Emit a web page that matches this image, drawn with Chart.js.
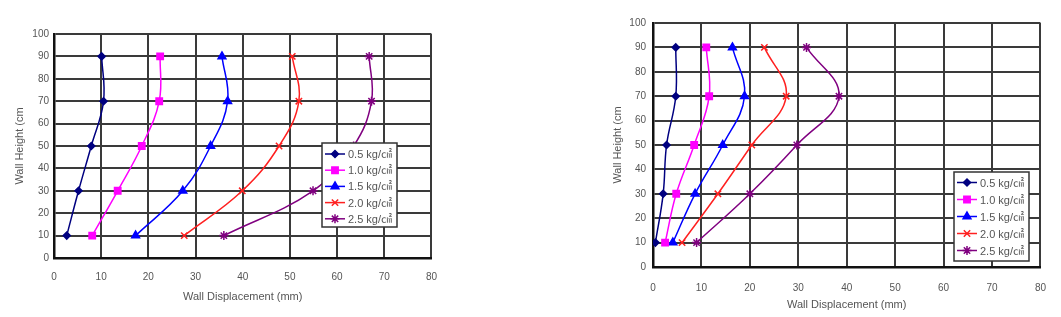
<!DOCTYPE html>
<html>
<head>
<meta charset="utf-8">
<script src="https://cdn.jsdelivr.net/npm/chart.js@4/dist/chart.umd.min.js"></script>
<style>
  html, body { margin: 0; padding: 0; background: #fff; }
  #wrap { position: relative; width: 1061px; height: 317px; overflow: hidden; }
  .box { position: absolute; top: 0; }
</style>
</head>
<body>
<div id="wrap">
  <div class="box" style="left:0px"><canvas id="chartLeft" width="450" height="317"></canvas></div>
  <div class="box" style="left:600px"><canvas id="chartRight" width="461" height="317"></canvas></div>
</div>
<script>
// wall heights where displacement was measured (cm)
var heights = [10, 30, 50, 70, 90];
var loadLabels = ['0.5 kg/㎠', '1.0 kg/㎠', '1.5 kg/㎠', '2.0 kg/㎠', '2.5 kg/㎠'];

// left chart - displacement (mm) at each height
var leftDisp05 = [2.7, 5.2, 7.9, 10.5, 10.1];
var leftDisp10 = [8.1, 13.5, 18.6, 22.3, 22.5];
var leftDisp15 = [17.3, 27.3, 33.2, 36.8, 35.6];
var leftDisp20 = [27.6, 39.9, 47.7, 51.9, 50.5];
var leftDisp25 = [36.0, 54.9, 63.5, 67.3, 66.8];

// right chart - displacement (mm) at each height
var rightDisp05 = [0.5, 2.1, 2.8, 4.7, 4.7];
var rightDisp10 = [2.5, 4.8, 8.5, 11.6, 11.0];
var rightDisp15 = [4.1, 8.7, 14.4, 18.9, 16.4];
var rightDisp20 = [6.0, 13.4, 20.4, 27.5, 23.0];
var rightDisp25 = [9.0, 20.0, 29.7, 38.4, 31.7];

var xTickMax = 80, xTickStep = 10;
var yTickMax = 100, yTickStep = 10;

var seriesColors = ['#000080', '#ff00ff', '#0000ff', '#ff2020', '#800080'];
var seriesShapes = ['rectRot', 'rect', 'triangle', 'crossRot', 'star'];
var seriesRadius = [3.5, 4.5, 4.5, 4.5, 4.5];

var fontFamily = '"Liberation Sans", "Noto Sans CJK KR", Arial, sans-serif';

function toPoints(xs) {
    return xs.map(function(x, i) {
        return { x: x, y: heights[i] };
    });
}

function makeDatasets(list) {
    return list.map(function(xs, i) {
        return {
            label: loadLabels[i],
            data: toPoints(xs),
            showLine: true,
            tension: 0.4,
            borderColor: seriesColors[i],
            backgroundColor: seriesColors[i],
            borderWidth: 1.5,
            pointStyle: seriesShapes[i],
            pointRadius: seriesRadius[i],
            pointBorderWidth: 1.5,
            pointBorderColor: seriesColors[i],
            pointBackgroundColor: seriesColors[i]
        };
    });
}

// legend box drawn inside the plot
var insideLegend = {
    id: 'insideLegend',
    afterDraw: function(chart, args, opts) {
        var ctx = chart.ctx;
        ctx.save();
        ctx.fillStyle = '#fff';
        ctx.fillRect(opts.x, opts.y, opts.w, opts.h);
        ctx.lineWidth = 1.5;
        ctx.strokeStyle = '#333';
        ctx.strokeRect(opts.x, opts.y, opts.w, opts.h);
        ctx.font = '11px ' + fontFamily;
        ctx.textBaseline = 'middle';
        chart.data.datasets.forEach(function(ds, i) {
            var cy = opts.y + opts.first + i * opts.gap;
            var lx = opts.x + 3;
            ctx.strokeStyle = ds.borderColor;
            ctx.fillStyle = ds.backgroundColor;
            ctx.lineWidth = 1.5;
            ctx.beginPath();
            ctx.moveTo(lx, cy);
            ctx.lineTo(lx + 20, cy);
            ctx.stroke();
            Chart.helpers.drawPoint(ctx, {
                pointStyle: ds.pointStyle,
                radius: ds.pointRadius,
                borderWidth: 1.5,
                rotation: 0
            }, lx + 10, cy);
            ctx.fillStyle = '#555';
            ctx.fillText(ds.label, lx + 23, cy + 1);
        });
        ctx.restore();
    }
};

function makeChart(id, datasets, lay) {
    return new Chart(document.getElementById(id), {
        type: 'scatter',
        data: { datasets: datasets },
        plugins: [insideLegend],
        options: {
            responsive: false,
            animation: false,
            layout: { padding: { top: lay.top, right: lay.right, left: 0, bottom: 0 } },
            plugins: {
                legend: { display: false },
                tooltip: { enabled: false },
                insideLegend: lay.legend
            },
            scales: {
                x: {
                    type: 'linear',
                    min: 0,
                    max: xTickMax,
                    afterFit: function(s) { s.height = lay.xAxisH; },
                    ticks: {
                        stepSize: xTickStep,
                        padding: lay.xPad,
                        color: '#555',
                        font: { family: fontFamily, size: 10 }
                    },
                    grid: { color: '#3a3a3a', lineWidth: 2, drawTicks: false },
                    border: { display: true, color: '#111', width: 2.5 },
                    title: {
                        display: true,
                        text: 'Wall Displacement (mm)',
                        color: '#555',
                        font: { family: fontFamily, size: 11 },
                        padding: { top: 0, bottom: lay.xTitlePad }
                    }
                },
                y: {
                    type: 'linear',
                    min: 0,
                    max: yTickMax,
                    afterFit: function(s) { s.width = lay.yAxisW; },
                    ticks: {
                        stepSize: yTickStep,
                        padding: lay.yPad,
                        color: '#555',
                        font: { family: fontFamily, size: 10 }
                    },
                    grid: { color: '#3a3a3a', lineWidth: 2, drawTicks: false },
                    border: { display: true, color: '#111', width: 2.5 },
                    title: {
                        display: true,
                        text: 'Wall Height (cm',
                        color: '#555',
                        font: { family: fontFamily, size: 11 },
                        padding: { top: lay.yTitlePad, bottom: 0 }
                    }
                }
            }
        }
    });
}

makeChart('chartLeft',
    makeDatasets([leftDisp05, leftDisp10, leftDisp15, leftDisp20, leftDisp25]),
    {
        top: 34, right: 16, xAxisH: 59, yAxisW: 54,
        xPad: 13, yPad: 5, xTitlePad: 13, yTitlePad: 13,
        legend: { x: 322, y: 143, w: 75, h: 84, first: 11, gap: 16.2 }
    });

makeChart('chartRight',
    makeDatasets([rightDisp05, rightDisp10, rightDisp15, rightDisp20, rightDisp25]),
    {
        top: 23, right: 20, xAxisH: 50, yAxisW: 53,
        xPad: 15, yPad: 7, xTitlePad: 5, yTitlePad: 11,
        legend: { x: 354, y: 172, w: 75, h: 89, first: 10.5, gap: 17 }
    });
</script>
</body>
</html>
